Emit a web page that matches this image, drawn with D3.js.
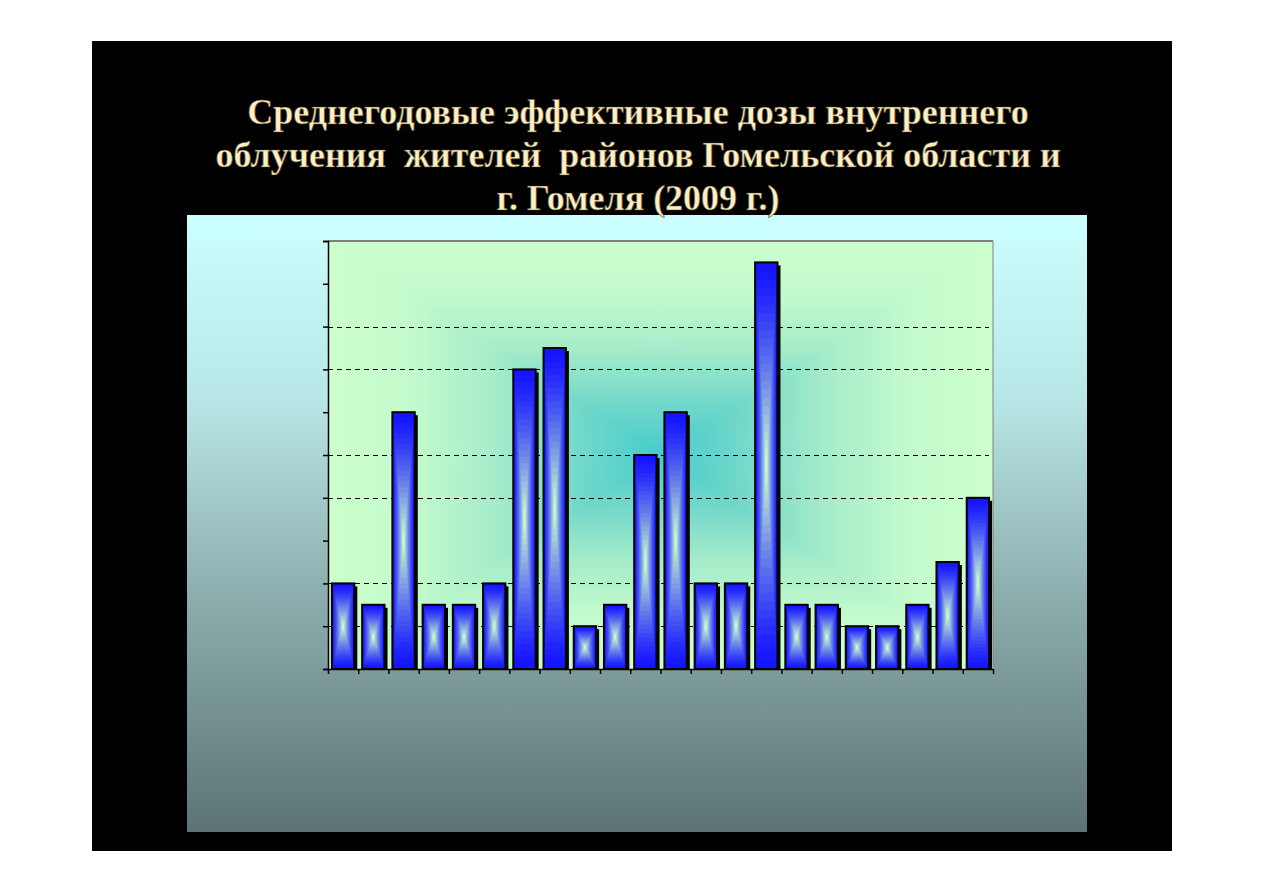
<!DOCTYPE html>
<html><head><meta charset="utf-8">
<script src="https://cdn.jsdelivr.net/npm/d3@7"></script>
<style>html,body{margin:0;padding:0;background:#fff;}svg{display:block;}</style>
</head><body>
<script>
const titleLines = ["Среднегодовые эффективные дозы внутреннего",
  "облучения  жителей  районов Гомельской области и",
  "г. Гомеля (2009 г.)"];
const categories = d3.range(1, 23).map(String);
const values = [2, 1.5, 6, 1.5, 1.5, 2, 7, 7.5, 1, 1.5, 5, 6, 2, 2, 9.5, 1.5, 1.5, 1, 1, 1.5, 2.5, 4];
const yTicks = d3.range(0, 11);
const gridValues = [1, 2, 4, 5, 7, 8];

const W = 1263, H = 893;
const svg = d3.select("body").append("svg").attr("width", W).attr("height", H);
const defs = svg.append("defs");

// outer black slide
svg.append("rect").attr("x", 92).attr("y", 41).attr("width", 1080).attr("height", 810).attr("fill", "#000");

// panel gradient
const pg = defs.append("linearGradient").attr("id", "panel").attr("x1", 0).attr("y1", 0).attr("x2", 0).attr("y2", 1);
[[0, "#ccffff"], [0.3, "#b8e6e6"], [0.6, "#8fb0b0"], [1, "#5c7474"]].forEach(s => pg.append("stop").attr("offset", s[0]).attr("stop-color", s[1]));
svg.append("rect").attr("x", 187).attr("y", 215).attr("width", 900).attr("height", 617).attr("fill", "url(#panel)");

// title
const tg = svg.append("g");
titleLines.forEach((t, i) => {
  tg.append("text").attr("x", 638).attr("y", 124 + i * 43).attr("text-anchor", "middle")
    .attr("font-family", "'Liberation Serif','Times New Roman',serif").attr("font-weight", "bold")
    .attr("font-size", 36).attr("fill", "#ffefc4").attr("stroke", "#5a4a2a").attr("stroke-width", 0.6)
    .style("white-space", "pre").text(t);
});

// plot
const m = {l: 328, r: 993, t: 241, b: 669};
const x = d3.scaleBand().domain(categories).range([m.l, m.r]).paddingInner(0.26).paddingOuter(0.13);
const y = d3.scaleLinear().domain([0, 10]).range([m.b, m.t]);

// plot background: rectangular gradient via lighten blend
const hx = defs.append("linearGradient").attr("id", "bgH").attr("x1", 0).attr("x2", 1).attr("y1", 0).attr("y2", 0);
const vy = defs.append("linearGradient").attr("id", "bgV").attr("x1", 0).attr("x2", 0).attr("y1", 0).attr("y2", 1);
const bgStops = [[0, "#ccffcc"], [0.12, "#c4fbcc"], [0.25, "#a6ecca"], [0.38, "#72d8c8"], [0.5, "#45cccc"]];
bgStops.forEach(s => hx.append("stop").attr("offset", s[0]).attr("stop-color", s[1]));
bgStops.slice().reverse().forEach(s => hx.append("stop").attr("offset", 1 - s[0]).attr("stop-color", s[1]));
bgStops.forEach(s => vy.append("stop").attr("offset", s[0]).attr("stop-color", s[1]));
bgStops.slice().reverse().forEach(s => vy.append("stop").attr("offset", 1 - s[0]).attr("stop-color", s[1]));
const bgG = svg.append("g").style("isolation", "isolate");
bgG.append("rect").attr("x", m.l).attr("y", m.t).attr("width", m.r - m.l).attr("height", m.b - m.t).attr("fill", "url(#bgH)");
bgG.append("rect").attr("x", m.l).attr("y", m.t).attr("width", m.r - m.l).attr("height", m.b - m.t).attr("fill", "url(#bgV)").style("mix-blend-mode", "lighten");

// gridlines
svg.append("g").selectAll("line").data(gridValues).join("line")
  .attr("x1", m.l).attr("x2", m.r - 4).attr("y1", d => Math.round(y(d)) + 0.5).attr("y2", d => Math.round(y(d)) + 0.5)
  .attr("stroke", "#000").attr("stroke-width", 1).attr("stroke-dasharray", "5,4");

// top and right borders
svg.append("line").attr("x1", m.l).attr("x2", m.r).attr("y1", m.t).attr("y2", m.t).attr("stroke", "#808080").attr("stroke-width", 2);
svg.append("line").attr("x1", m.r).attr("x2", m.r).attr("y1", m.t).attr("y2", m.b).attr("stroke", "#808080").attr("stroke-width", 1);

// bars
const blue = d3.rgb(20, 20, 255), light = d3.rgb(204, 255, 208);
const steps = 24;
const barG = svg.append("g");
categories.forEach((c, i) => {
  const v = values[i];
  const bx = x(c), bw = x.bandwidth(), by = y(v), bh = y(0) - y(v);
  const g = barG.append("g");
  g.append("rect").attr("x", bx + 3).attr("y", by + 3).attr("width", bw).attr("height", bh - 3).attr("fill", "#000");
  for (let k = 0; k < steps; k++) {
    const s = 1 - k / steps;
    const t = Math.pow(k / (steps - 1), 1.3);
    g.append("rect").attr("x", bx + bw / 2 - bw * s / 2).attr("y", by + bh / 2 - bh * s / 2)
      .attr("width", bw * s).attr("height", bh * s)
      .attr("fill", d3.interpolateRgb(blue, light)(t));
  }
  g.append("rect").attr("x", bx).attr("y", by).attr("width", bw).attr("height", bh)
    .attr("fill", "none").attr("stroke", "#000").attr("stroke-width", 2);
});

// axes
const yAxis = d3.axisLeft(y).tickValues(yTicks).tickSize(5).tickFormat("");
const ya = svg.append("g").attr("transform", `translate(${m.l},0)`).call(yAxis);
ya.selectAll("path,line").attr("stroke", "#000").attr("stroke-width", 1.5);
const xAxis = d3.axisBottom(d3.scaleLinear().domain([0, categories.length]).range([m.l, m.r]))
  .tickValues(d3.range(0, categories.length + 1)).tickSize(5).tickSizeOuter(0).tickFormat("");
const xa = svg.append("g").attr("transform", `translate(0,${m.b})`).call(xAxis);
xa.selectAll("path,line").attr("stroke", "#000").attr("stroke-width", 1.5);
</script>
</body></html>
